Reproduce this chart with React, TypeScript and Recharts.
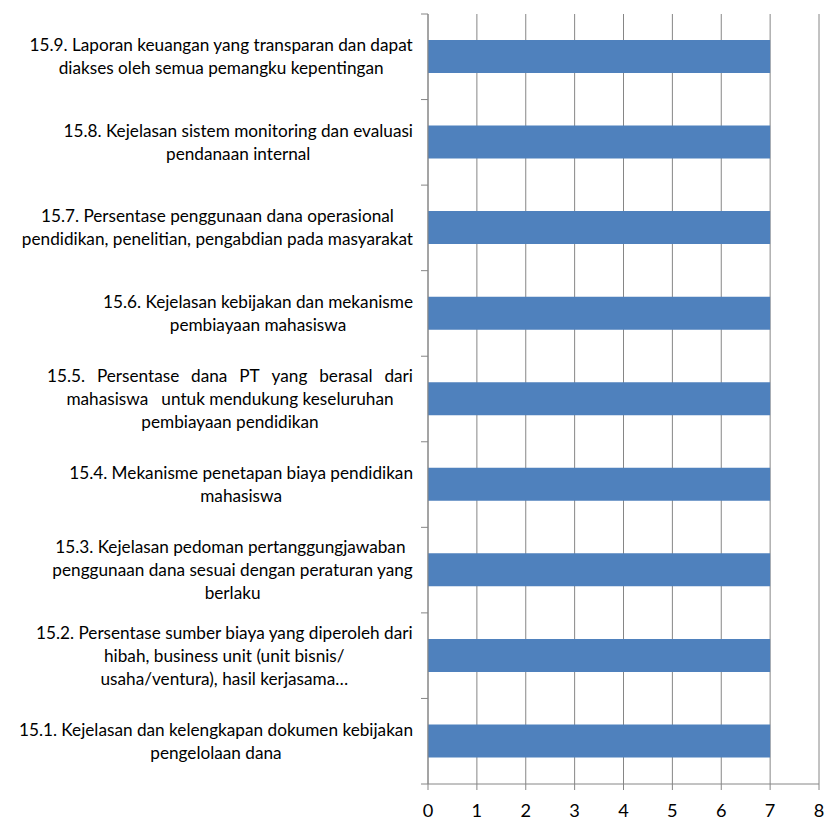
import React from "react";
import { Bar, BarChart, CartesianGrid, XAxis, YAxis } from "recharts";

// Categories top to bottom, as drawn. "\n" marks the label line breaks.
const categories = [
  "15.9. Laporan keuangan yang transparan dan dapat\ndiakses oleh semua pemangku kepentingan",
  "15.8. Kejelasan sistem monitoring dan evaluasi\npendanaan internal",
  "15.7. Persentase penggunaan dana operasional\npendidikan, penelitian, pengabdian pada masyarakat",
  "15.6. Kejelasan kebijakan dan mekanisme\npembiayaan mahasiswa",
  "15.5. Persentase dana PT yang berasal dari\nmahasiswa   untuk mendukung keseluruhan\npembiayaan pendidikan",
  "15.4. Mekanisme penetapan biaya pendidikan\nmahasiswa",
  "15.3. Kejelasan pedoman pertanggungjawaban \npenggunaan dana sesuai dengan peraturan yang\nberlaku",
  "15.2. Persentase sumber biaya yang diperoleh dari\nhibah, business unit (unit bisnis/\nusaha/ventura), hasil kerjasama…",
  "15.1. Kejelasan dan kelengkapan dokumen kebijakan\npengelolaan dana",
];
const values = [7, 7, 7, 7, 7, 7, 7, 7, 7];
const xTicks = [0, 1, 2, 3, 4, 5, 6, 7, 8];
// lines that Excel justified across the label box
const justified = ["15.5. Persentase dana PT yang berasal dari"];

const W = 827;
const H = 821;
const MARGIN = { top: 14, right: 8, bottom: 0, left: 0 };
const Y_AXIS_W = 428;
const X_AXIS_H = 37;
const FONT = "Lato, 'Open Sans', sans-serif";
const FS = 17.2;
const LINE_H = 23;
const JUSTIFY_W = 366;
const AXIS = "#868686";
const BAR = "#4F81BD";

const band = (H - MARGIN.top - MARGIN.bottom - X_AXIS_H) / categories.length;

let ctx: CanvasRenderingContext2D | null = null;
function measure(s: string) {
  if (!ctx) ctx = document.createElement("canvas").getContext("2d");
  if (!ctx) return s.length * FS * 0.5;
  ctx.font = `${FS}px Lato`;
  return ctx.measureText(s).width;
}

function CategoryTick(props: any) {
  const { x, y, payload, index } = props;
  const lines: string[] = String(payload.value).split("\n");
  const hasJust = lines.some((l) => justified.includes(l));
  const maxW = hasJust ? JUSTIFY_W : Math.max(...lines.map(measure));
  const cx = x - maxW / 2;
  const y0 = y - ((lines.length - 1) * LINE_H) / 2;
  return (
    <g>
      <line x1={x + 8} x2={x + 15} y1={y - band / 2} y2={y - band / 2} stroke={AXIS} />
      {index === categories.length - 1 && (
        <line x1={x + 8} x2={x + 15} y1={y + band / 2} y2={y + band / 2} stroke={AXIS} />
      )}
      {lines.map((ln, i) => {
        const ty = y0 + i * LINE_H;
        if (justified.includes(ln)) {
          const words = ln.split(" ");
          const ww = words.map(measure);
          const gap = (maxW - ww.reduce((a, b) => a + b, 0)) / (words.length - 1);
          let px = x - maxW;
          return (
            <text key={i} y={ty} dy="0.35em" fontFamily={FONT} fontSize={FS} fill="#000">
              {words.map((w, j) => {
                const el = (
                  <tspan key={j} x={px}>
                    {w}
                  </tspan>
                );
                px += ww[j] + gap;
                return el;
              })}
            </text>
          );
        }
        return (
          <text
            key={i}
            x={cx}
            y={ty}
            dy="0.35em"
            textAnchor="middle"
            fontFamily={FONT}
            fontSize={FS}
            fill="#000"
            style={{ whiteSpace: "pre" }}
          >
            {ln}
          </text>
        );
      })}
    </g>
  );
}

export default function App() {
  const data = categories.map((c, i) => ({ name: c, value: values[i] }));
  return (
    <div style={{ position: "absolute", left: 0, top: 0, width: W, height: H, background: "#fff" }}>
      <BarChart width={W} height={H} data={data} layout="vertical" margin={MARGIN} barCategoryGap={0}>
        <CartesianGrid horizontal={false} vertical stroke={AXIS} verticalValues={xTicks} />
        <XAxis
          type="number"
          domain={[0, 8]}
          ticks={xTicks}
          interval={0}
          height={X_AXIS_H}
          stroke={AXIS}
          tickSize={6}
          tickMargin={14}
          tick={{ fill: "#000", fontSize: FS + 1, fontFamily: FONT }}
        />
        <YAxis
          type="category"
          dataKey="name"
          width={Y_AXIS_W}
          stroke={AXIS}
          tickLine={false}
          tickSize={7}
          tickMargin={8}
          interval={0}
          tick={<CategoryTick />}
        />
        <Bar dataKey="value" fill={BAR} barSize={33} isAnimationActive={false} />
      </BarChart>
    </div>
  );
}
